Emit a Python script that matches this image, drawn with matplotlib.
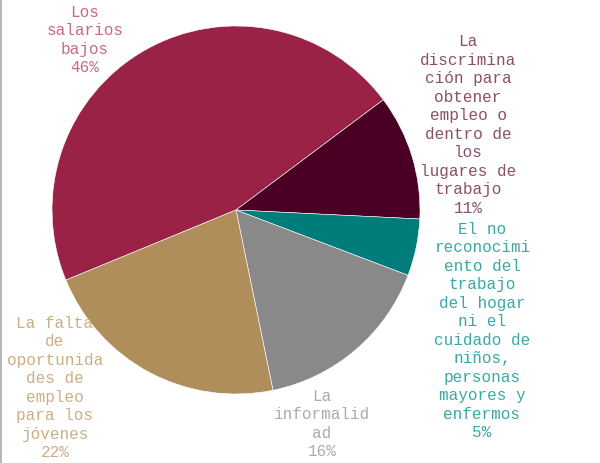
import matplotlib.pyplot as plt

# ============================================================
# DATA
# ============================================================

labels = [
    "Los\nsalarios\nbajos",
    "La\ndiscrimina\nción para\nobtener\nempleo o\ndentro de\nlos\nlugares de\ntrabajo",
    "El no\nreconocimi\nento del\ntrabajo\ndel hogar\nni el\ncuidado de\nniños,\npersonas\nmayores y\nenfermos",
    "La\ninformalid\nad",
    "La falta\nde\noportunida\ndes de\nempleo\npara los\njóvenes",
]
values = [46, 11, 5, 16, 22]

# ============================================================
# STYLE
# ============================================================

slice_colors = ["#9b2247", "#4a0024", "#007c7a", "#898989", "#b08e5c"]
text_colors = ["#c8688a", "#8a5068", "#3aa8a5", "#ababab", "#cdae84"]
# label centres in pixel coords (x, y from top)
label_pos = [(85, 40), (468, 125), (482, 331), (322, 424), (55, 388)]

W, H = 600, 463
cx, cy, r = 236, 210, 184

fig = plt.figure(figsize=(6, 4.63), dpi=100)
ax = fig.add_axes([0, 0, 1, 1])

ax.pie(
    values,
    colors=slice_colors,
    startangle=202.4,
    counterclock=False,
    center=(cx, H - cy),
    radius=r,
    wedgeprops=dict(edgecolor="white", linewidth=0.4),
    frame=True,
)

for lab, v, col, (x, y) in zip(labels, values, text_colors, label_pos):
    ax.text(x, H - y, f"{lab}\n{v}%", color=col, ha="center", va="center",
            family="Liberation Mono", fontsize=11.5, linespacing=1.29,
            multialignment="center")

# thin grey border on the left edge
ax.axvline(1.2, color="#a8a8a8", lw=1.2)

ax.set_xlim(0, W)
ax.set_ylim(0, H)
ax.set_aspect("equal")
ax.axis("off")

fig.savefig("out.png", dpi=100)
